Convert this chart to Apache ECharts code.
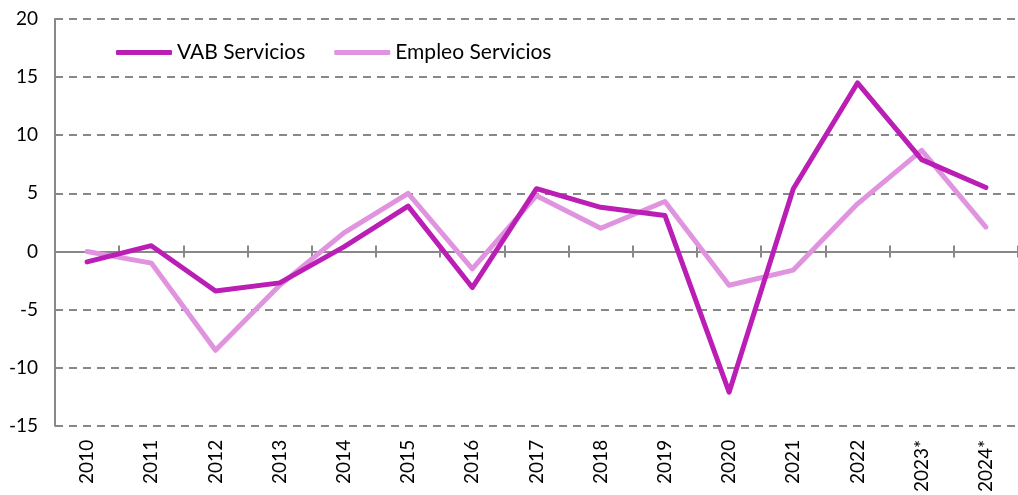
<!DOCTYPE html>
<html><head><meta charset="utf-8">
<script src="https://cdn.jsdelivr.net/npm/echarts@6/dist/echarts.min.js"></script>
<style>html,body{margin:0;padding:0;background:#fff}#c{width:1018px;height:495px}</style>
</head><body><div id="c"></div>
<script>
const categories = ['2010','2011','2012','2013','2014','2015','2016','2017','2018','2019','2020','2021','2022','2023*','2024*'];
const vabServicios = [-0.9, 0.5, -3.4, -2.7, 0.4, 3.9, -3.1, 5.4, 3.8, 3.1, -12.1, 5.4, 14.5, 7.9, 5.5];
const empleoServicios = [0.0, -1.0, -8.5, -2.9, 1.6, 5.0, -1.5, 4.8, 2.0, 4.3, -2.9, -1.6, 4.1, 8.7, 2.1];
const yTicks = {min: -15, max: 20, interval: 5};

const FONT = 'Lato, "Open Sans", sans-serif';
const chart = echarts.init(document.getElementById('c'), null, {renderer: 'canvas'});
const axisGray = '#888888';
chart.setOption({
  animation: false,
  grid: {left: 55, right: -6, top: 19, bottom: 68, containLabel: false},
  legend: {
    left: 116, top: 42, padding: 0, itemWidth: 56, itemHeight: 5, itemGap: 29,
    textStyle: {fontFamily: FONT, fontSize: 21, color: '#000'},
    icon: 'roundRect',
    data: ['VAB Servicios', 'Empleo Servicios']
  },
  xAxis: [
    {type: 'category', data: categories, boundaryGap: true, position: 'bottom',
     axisLine: {show: false, onZero: false}, axisTick: {show: false},
     axisLabel: {rotate: 90, margin: 14, fontFamily: FONT, fontSize: 19, color: '#000'}},
    {type: 'category', data: categories, boundaryGap: true, position: 'bottom',
     axisLine: {show: true, onZero: true, onZeroAxisIndex: 0, lineStyle: {color: axisGray, width: 2}},
     axisTick: {show: true, inside: true, length: 6, lineStyle: {color: axisGray, width: 2}},
     axisLabel: {show: false}},
    {type: 'category', data: categories, boundaryGap: true, position: 'bottom',
     axisLine: {show: false, onZero: true, onZeroAxisIndex: 0},
     axisTick: {show: true, inside: false, length: 6, lineStyle: {color: axisGray, width: 2}},
     axisLabel: {show: false}}
  ],
  yAxis: {
    type: 'value', min: yTicks.min, max: yTicks.max, interval: yTicks.interval,
    axisLine: {show: true, lineStyle: {color: axisGray, width: 2}},
    axisTick: {show: false},
    axisLabel: {fontFamily: FONT, fontSize: 19, color: '#000', margin: 17},
    splitLine: {show: true, lineStyle: {color: axisGray, width: 2, type: [8, 6]}}
  },
  series: [
    {name: 'Empleo Servicios', type: 'line', data: empleoServicios, xAxisIndex: 0,
     symbol: 'none', lineStyle: {color: '#E093DE', width: 5, cap: 'round', join: 'round'},
     itemStyle: {color: '#E093DE'}, z: 2},
    {name: 'VAB Servicios', type: 'line', data: vabServicios, xAxisIndex: 0,
     symbol: 'none', lineStyle: {color: '#BA1EB4', width: 5, cap: 'round', join: 'round'},
     itemStyle: {color: '#BA1EB4'}, z: 3}
  ]
});
</script></body></html>
